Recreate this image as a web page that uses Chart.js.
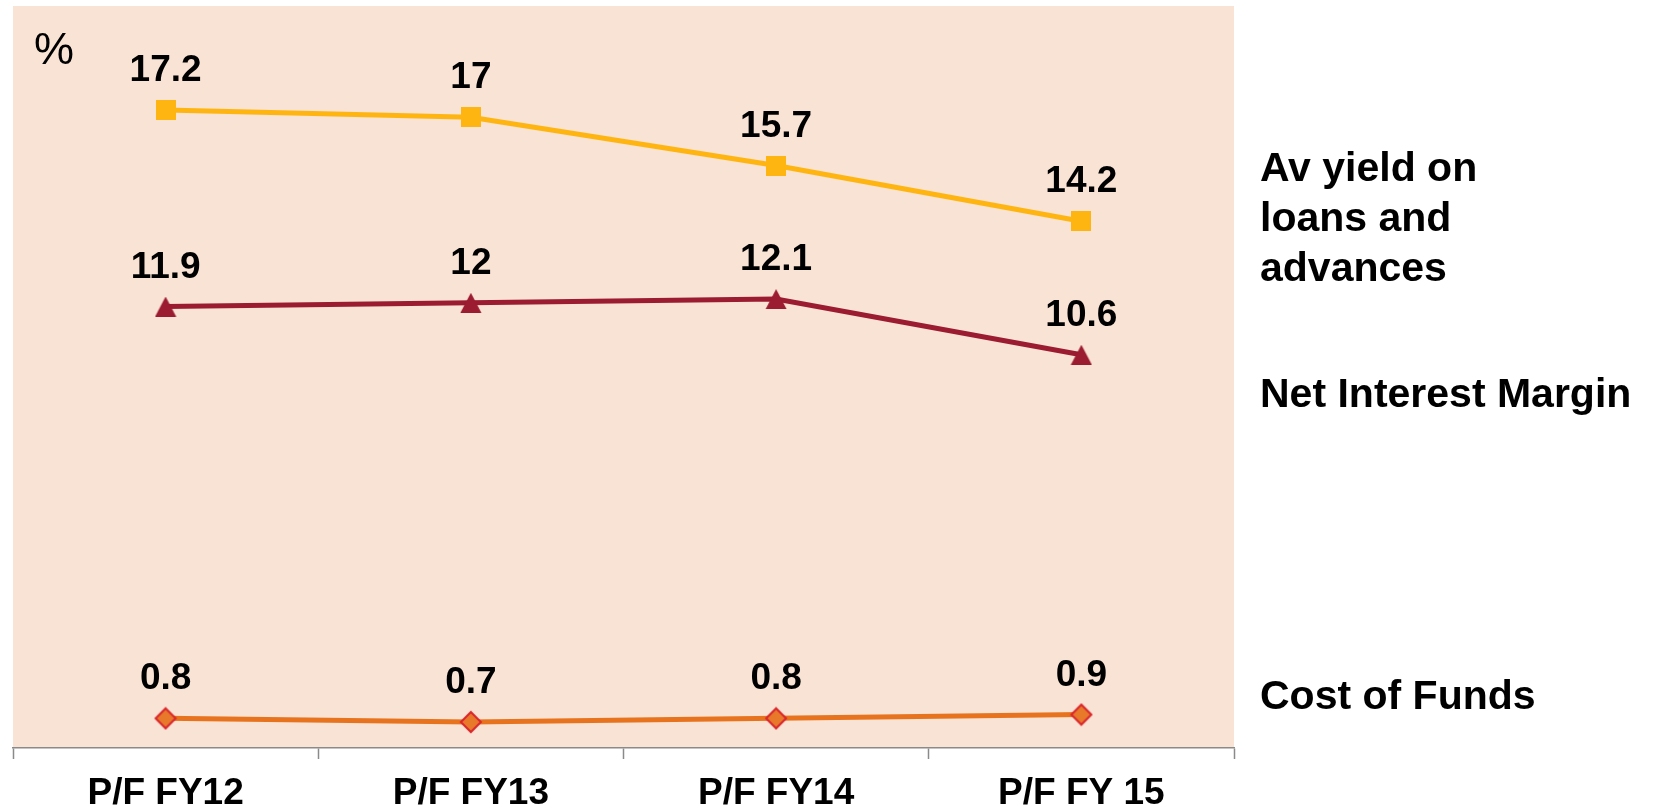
<!DOCTYPE html>
<html>
<head>
<meta charset="utf-8">
<script src="https://cdn.jsdelivr.net/npm/chart.js@4.4.1/dist/chart.umd.min.js"></script>
<style>
  html, body { margin: 0; padding: 0; background: #ffffff; }
  #wrap { position: relative; width: 1657px; height: 811px; }
</style>
</head>
<body>
<div id="wrap"><canvas id="c" width="1657" height="811"></canvas></div>
<script>
// ---- Data ----
const categories = ['P/F FY12', 'P/F FY13', 'P/F FY14', 'P/F FY 15'];
const yieldOnLoans = [17.2, 17, 15.7, 14.2];
const netInterestMargin = [11.9, 12, 12.1, 10.6];
const costOfFunds = [0.8, 0.7, 0.8, 0.9];
const seriesNames = ['Av yield on loans and advances', 'Net Interest Margin', 'Cost of Funds'];
const legendLines = [['Av yield on', 'loans and', 'advances'], ['Net Interest Margin'], ['Cost of Funds']];
const unitLabel = '%';

// ---- Styles ----
const FONT = '"Liberation Sans", Arial, Helvetica, sans-serif';
const colYellow = '#FFB511';
const colMaroon = '#9B1B30';
const colOrange = '#E8731F';
const colDiamondFill = '#E8782A';
const colDiamondStroke = '#D9252C';
const plotBg = '#F9E3D4';

function makeSquare() {
  const c = document.createElement('canvas'); c.width = 20; c.height = 20;
  const g = c.getContext('2d'); g.fillStyle = colYellow; g.fillRect(0, 0, 20, 20);
  return c;
}
function makeTriangle() {
  const c = document.createElement('canvas'); c.width = 22; c.height = 20;
  const g = c.getContext('2d'); g.fillStyle = colMaroon;
  g.beginPath(); g.moveTo(0.5, 20); g.lineTo(11, 0); g.lineTo(21.5, 20); g.closePath(); g.fill();
  return c;
}
function makeDiamond() {
  const c = document.createElement('canvas'); c.width = 24; c.height = 24;
  const g = c.getContext('2d');
  g.beginPath(); g.moveTo(12, 2); g.lineTo(22, 12); g.lineTo(12, 22); g.lineTo(2, 12); g.closePath();
  g.fillStyle = colDiamondFill; g.fill();
  g.lineWidth = 2; g.strokeStyle = colDiamondStroke; g.stroke();
  return c;
}

const plotBgPlugin = {
  id: 'plotBg',
  beforeDraw(chart) {
    const { ctx, chartArea: a } = chart;
    ctx.save(); ctx.fillStyle = plotBg;
    ctx.fillRect(a.left, a.top, a.right - a.left, a.bottom - a.top);
    ctx.restore();
  }
};

const labelsPlugin = {
  id: 'valueLabels',
  afterDatasetsDraw(chart) {
    const { ctx, chartArea: a } = chart;
    ctx.save();
    ctx.fillStyle = '#000';
    ctx.font = 'bold 37px ' + FONT;
    ctx.textAlign = 'center';
    ctx.textBaseline = 'alphabetic';
    chart.data.datasets.forEach((ds, i) => {
      const meta = chart.getDatasetMeta(i);
      meta.data.forEach((pt, j) => {
        ctx.fillText(String(ds.data[j]), pt.x, pt.y - 29);
      });
    });
    // unit label
    ctx.textAlign = 'left';
    ctx.font = '45px ' + FONT;
    ctx.fillText(unitLabel, a.left + 21, 64);
    // right-side series names
    ctx.font = 'bold 41px ' + FONT;
    const x = a.right + 26;
    const baselines = [[181, 231, 281], [407], [709]];
    legendLines.forEach((lines, i) => {
      lines.forEach((t, k) => ctx.fillText(t, x, baselines[i][k]));
    });
    ctx.restore();
  }
};

new Chart(document.getElementById('c'), {
  type: 'line',
  data: {
    labels: categories,
    datasets: [
      { label: seriesNames[0], data: yieldOnLoans, borderColor: colYellow, borderWidth: 5,
        pointStyle: makeSquare(), pointRadius: 10, tension: 0 },
      { label: seriesNames[1], data: netInterestMargin, borderColor: colMaroon, borderWidth: 5,
        pointStyle: makeTriangle(), pointRadius: 10, tension: 0 },
      { label: seriesNames[2], data: costOfFunds, borderColor: colOrange, borderWidth: 5,
        pointStyle: makeDiamond(), pointRadius: 10, tension: 0 }
    ]
  },
  options: {
    responsive: false,
    animation: false,
    devicePixelRatio: 1,
    events: [],
    layout: { autoPadding: false, padding: { left: 13, right: 423, top: 6, bottom: 0 } },
    plugins: { legend: { display: false }, tooltip: { enabled: false } },
    scales: {
      y: { display: false, min: 0, max: 20 },
      x: {
        offset: true,
        afterFit(scale) { scale.height = 63; },
        grid: { offset: true, drawOnChartArea: false, drawTicks: true, tickLength: 11,
                tickColor: '#8A8A8A', tickWidth: 1.5 },
        border: { display: true, color: '#8A8A8A', width: 1.5 },
        ticks: { color: '#000', padding: 16, font: { family: FONT, size: 37, weight: 'bold', lineHeight: 1.0 } }
      }
    }
  },
  plugins: [plotBgPlugin, labelsPlugin]
});
</script>
</body>
</html>
